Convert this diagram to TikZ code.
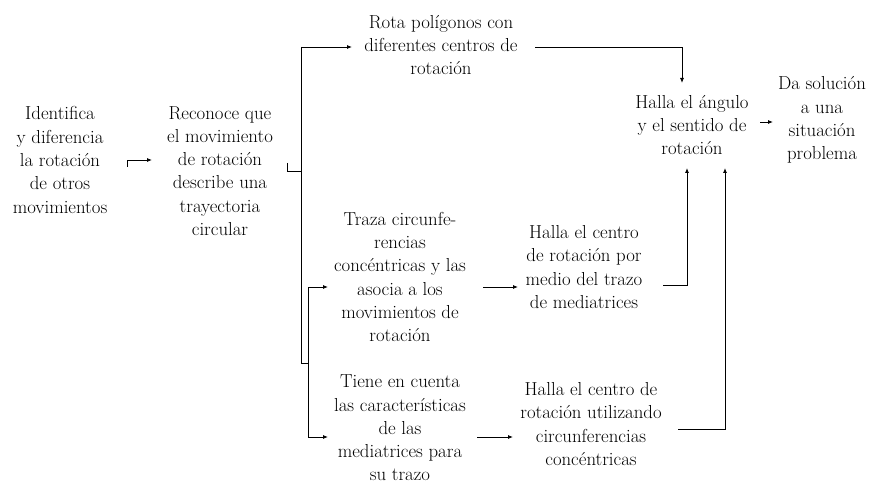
\documentclass[tikz,border=0pt]{standalone}
\usetikzlibrary{arrows.meta}
\begin{document}
\begin{tikzpicture}[x=1pt,y=-1pt,
  txt/.style={align=center, inner sep=0pt, font=\fontsize{18.8}{23.3}\selectfont},
  ln/.style={line width=0.8pt},
  arr/.style={ln, -{Latex[length=5pt,width=4pt]}}]
\useasboundingbox (0,0) rectangle (871,484);
\node[txt] (A) at (60,160) {Identifica\\y diferencia\\la rotación\\de otros\\movimientos};
\node[txt] (B) at (220,171) {Reconoce que\\el movimiento\\de rotación\\describe una\\trayectoria\\circular};
\node[txt] (C) at (441,45) {Rota polígonos con\\diferentes centros de\\rotación};
\node[txt] (D) at (400,277) {Traza circunfe-\\rencias\\concéntricas y las\\asocia a los\\movimientos de\\rotación};
\node[txt] (E) at (584,267) {Halla el centro\\de rotación por\\medio del trazo\\de mediatrices};
\node[txt] (F) at (400,428) {Tiene en cuenta\\las características\\de las\\mediatrices para\\su trazo};
\node[txt] (G) at (591,424) {Halla el centro de\\rotación utilizando\\circunferencias\\concéntricas};
\node[txt] (H) at (692,125) {Halla el ángulo\\y el sentido de\\rotación};
\node[txt] (I) at (822,120) {Da solución\\a una\\situación\\problema};
% coordinates
\coordinate (a0) at (127,167);
\coordinate (a1) at (127,160);
\coordinate (a2) at (152,160);
\coordinate (b0) at (287,163);
\coordinate (b1) at (287,171);
\coordinate (t0) at (301,47);
\coordinate (t1) at (301,363);
\coordinate (t2) at (308,363);
\coordinate (s0) at (308,287);
\coordinate (s1) at (308,437);
% connectors
\draw[arr] (a0) -- (a1) -- (a2);
\draw[ln] (b0) -- (b1) -- (b1 -| t0);
\draw[ln] (t0) -- (t1) -- (t2);
\draw[ln] (s0) -- (s1);
\draw[arr] (t0) -- (352,47);
\draw[arr] (s0) -- (328,287);
\draw[arr] (s1) -- (328,437);
\draw[arr] (483,287) -- (518,287);
\draw[arr] (477,437) -- (513,437);
\draw[arr] (535,47) -| (682,83);
\draw[arr] (663,285) -| (687,168);
\draw[arr] (678,429) -| (725,168);
\draw[arr] (760,122) -- (773,122);
\end{tikzpicture}
\end{document}
